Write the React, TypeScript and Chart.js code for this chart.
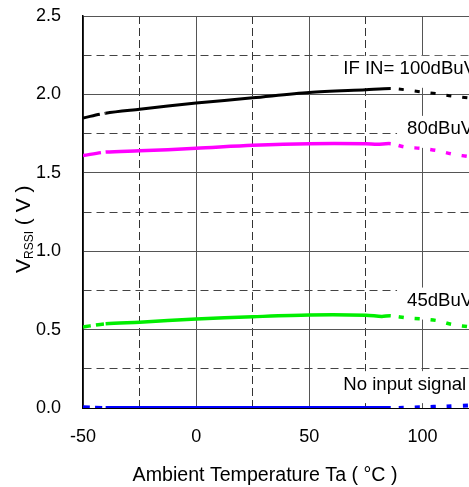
import React, { useEffect, useRef } from 'react';
import { Chart, registerables } from 'chart.js';

Chart.register(...registerables);

// Ambient temperature (°C) sample points for each curve
const tempIF100 = [-50, -40, -25, 0, 25, 50, 75, 86, 92, 100, 107, 113, 122];
const vIF100 = [1.85, 1.88, 1.905, 1.945, 1.978, 2.012, 2.03, 2.038, 2.03, 2.015, 2.003, 1.99, 1.975];

const tempIF80 = [-50, -40, -25, 0, 25, 50, 75, 80, 86, 92, 100, 107, 113, 122];
const vIF80 = [1.61, 1.632, 1.64, 1.656, 1.675, 1.686, 1.686, 1.682, 1.686, 1.665, 1.655, 1.64, 1.62, 1.6];

const tempIF45 = [-50, -40, -25, 0, 25, 50, 75, 82, 86, 93, 100, 107, 113, 122];
const vIF45 = [0.517, 0.537, 0.547, 0.568, 0.582, 0.593, 0.592, 0.584, 0.588, 0.575, 0.568, 0.556, 0.533, 0.515];

const tempNoSig = [-50, -40, 0, 50, 86, 100, 110, 122];
const vNoSig = [0.005, 0.0, 0.0, 0.0, 0.0, 0.005, 0.01, 0.017];

const seriesColors = ['#000000', '#ff00ff', '#00ee00', '#0000ff'];

// Curve annotations (anchored in data units)
const noteTexts = ['IF IN= 100dBuV', '80dBuV', '45dBuV', 'No input signal'];
const noteTemp = [65, 93.2, 93.2, 65];
const noteVolt = [2.16, 1.777, 0.682, 0.149];

// Axis setup
const xMin = -50;
const xMax = 125;
const xStep = 25;
const yMin = 0;
const yMax = 2.5;
const yStep = 0.25;
const xTitle = 'Ambient Temperature Ta ( °C )';

const FONT = '"Liberation Sans", Arial, sans-serif';

const toPoints = (xs: number[], ys: number[]) => xs.map((x, i) => ({ x, y: ys[i] }));

const isMajorX = (v: number) => Math.abs(v % 50) < 1e-6;
const isMajorY = (v: number) => Math.abs(v * 2 - Math.round(v * 2)) < 1e-6;

const makeSet = (xs: number[], ys: number[], color: string, width: number, startDash: number[]) => ({
  data: toPoints(xs, ys),
  borderColor: color,
  backgroundColor: color,
  borderWidth: width,
  pointRadius: 0,
  tension: 0.3,
  fill: false,
  segment: {
    borderDash: (ctx: any) => {
      if (ctx.p0.parsed.x < -40) return startDash;
      if (ctx.p0.parsed.x >= 86) return [5, 11];
      return [];
    },
    borderDashOffset: (ctx: any) => (ctx.p0.parsed.x >= 86 ? 8 : 0),
  },
});

const notesPlugin = {
  id: 'notes',
  beforeDatasetsDraw(chart: any) {
    const { ctx, scales, width } = chart;
    ctx.save();
    ctx.font = `18.6px ${FONT}`;
    ctx.textBaseline = 'middle';
    ctx.textAlign = 'left';
    noteTexts.forEach((t, i) => {
      const px = scales.x.getPixelForValue(noteTemp[i]);
      const py = scales.y.getPixelForValue(noteVolt[i]);
      ctx.fillStyle = '#ffffff';
      ctx.fillRect(px - 10, py - 13.5, width - (px - 10), 32);
      ctx.fillStyle = '#000000';
      ctx.fillText(t, px, py);
    });
    ctx.restore();
  },
  afterDraw(chart: any) {
    const { ctx, chartArea } = chart;
    ctx.save();
    ctx.fillStyle = '#000000';
    // x-axis title
    ctx.font = `19.6px ${FONT}`;
    ctx.textAlign = 'center';
    ctx.textBaseline = 'alphabetic';
    ctx.fillText(xTitle, chartArea.left + 182, chartArea.bottom + 73);
    // y-axis title with subscript
    ctx.translate(30, 273);
    ctx.rotate(-Math.PI / 2);
    ctx.textAlign = 'left';
    ctx.font = `21px ${FONT}`;
    ctx.fillText('V', 0, 0);
    let off = ctx.measureText('V').width;
    ctx.font = `12px ${FONT}`;
    ctx.fillText('RSSI', off, 3);
    off += ctx.measureText('RSSI').width;
    ctx.font = `21px ${FONT}`;
    ctx.fillText(' ( V )', off, 0);
    ctx.restore();
  },
};

export default function App() {
  const canvasRef = useRef<HTMLCanvasElement | null>(null);

  useEffect(() => {
    if (!canvasRef.current) return;
    const chart = new Chart(canvasRef.current, {
      type: 'line',
      data: {
        datasets: [
          makeSet(tempIF100, vIF100, seriesColors[0], 3, [17, 5]),
          makeSet(tempIF80, vIF80, seriesColors[1], 3.5, [18, 5]),
          makeSet(tempIF45, vIF45, seriesColors[2], 3.5, [8, 5]),
          makeSet(tempNoSig, vNoSig, seriesColors[3], 4, [7, 5]),
        ] as any,
      },
      options: {
        animation: false,
        responsive: true,
        maintainAspectRatio: false,
        layout: { padding: { top: 0, right: 0, left: 0, bottom: 0 } },
        plugins: {
          legend: { display: false },
          tooltip: { enabled: false },
        },
        scales: {
          x: {
            type: 'linear',
            min: xMin,
            max: xMax,
            afterFit: (s: any) => {
              s.height = 79;
              s.paddingLeft = 0;
              s.paddingRight = 0;
            },
            ticks: {
              stepSize: xStep,
              autoSkip: false,
              maxRotation: 0,
              padding: 18,
              color: '#000',
              font: { size: 18, family: FONT },
              callback: (v: any) => (isMajorX(Number(v)) ? String(v) : ''),
            },
            grid: {
              drawTicks: false,
              lineWidth: 1,
              color: (c: any) => (c.tick && isMajorX(c.tick.value) ? '#555555' : '#333333'),
            },
            border: {
              display: true,
              color: '#000',
              width: 1,
              dash: (c: any) => (c.tick && !isMajorX(c.tick.value) ? [8, 4] : []),
            },
          },
          y: {
            type: 'linear',
            min: yMin,
            max: yMax,
            afterFit: (s: any) => {
              s.width = 83;
              s.paddingTop = 16;
              s.paddingBottom = 0;
            },
            ticks: {
              stepSize: yStep,
              autoSkip: false,
              padding: 22,
              color: '#000',
              font: { size: 18, family: FONT },
              callback: (v: any) => (isMajorY(Number(v)) ? Number(v).toFixed(1) : ''),
            },
            grid: {
              drawTicks: false,
              lineWidth: 1,
              color: (c: any) => (c.tick && isMajorY(c.tick.value) ? '#555555' : '#444444'),
            },
            border: {
              display: true,
              color: '#000',
              width: 1.5,
              dash: (c: any) => (c.tick && !isMajorY(c.tick.value) ? [8, 5] : []),
            },
          },
        },
      } as any,
      plugins: [notesPlugin],
    });
    return () => chart.destroy();
  }, []);

  return (
    <div
      style={{
        position: 'fixed',
        left: 0,
        top: 0,
        width: 469,
        height: 487,
        overflow: 'hidden',
        background: '#ffffff',
      }}
    >
      <div style={{ position: 'relative', width: 479, height: 487 }}>
        <canvas ref={canvasRef} />
      </div>
    </div>
  );
}
